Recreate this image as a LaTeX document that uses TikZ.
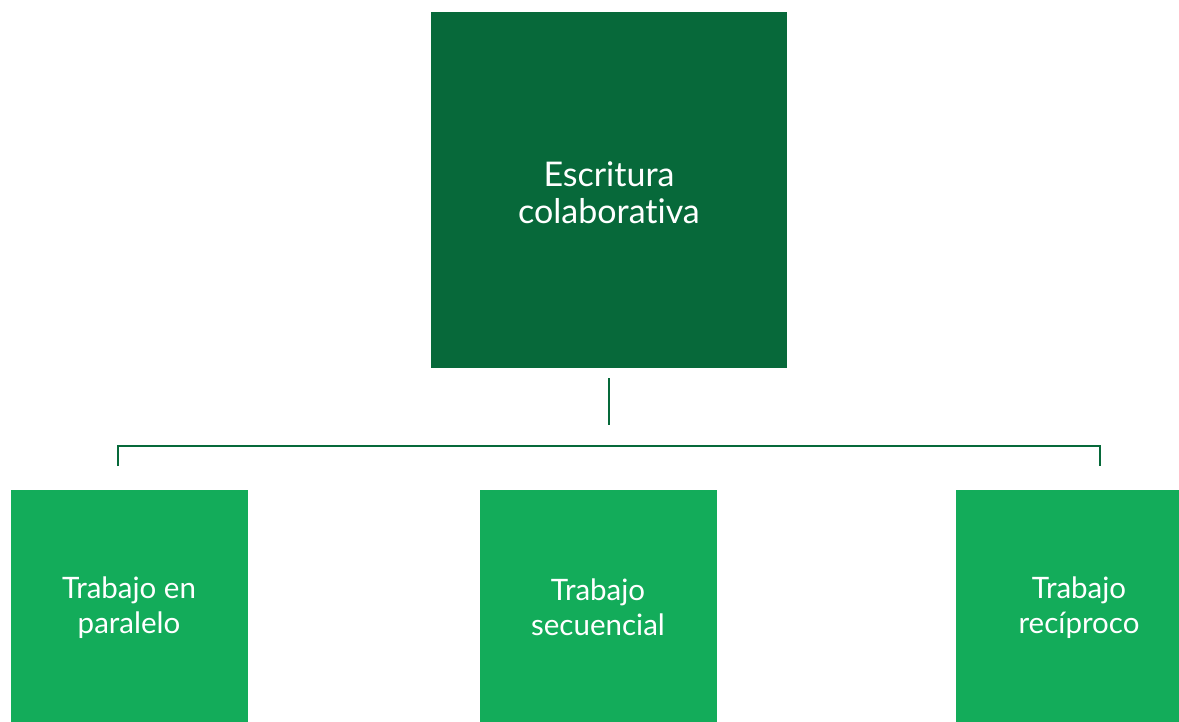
\documentclass[tikz,border=0pt]{standalone}
\usepackage{fontspec}
\setmainfont{Lato}[Ligatures={NoCommon,NoRare}]
\definecolor{darkg}{HTML}{07693A}
\definecolor{lightg}{HTML}{13AC5A}
\begin{document}
\begin{tikzpicture}[x=1pt,y=-1pt,
  topbox/.style={fill=darkg,draw=none,minimum width=356pt,minimum height=356pt,inner sep=0pt},
  subbox/.style={fill=lightg,draw=none,minimum width=237pt,minimum height=237pt,inner sep=0pt},
  toplabel/.style={text=white,align=center,inner sep=0pt,font=\fontsize{34}{37}\selectfont},
  sublabel/.style={text=white,align=center,inner sep=0pt,font=\fontsize{29.5}{35}\selectfont},
  conn/.style={draw=darkg,line width=2.2pt}]
\useasboundingbox (0,0) rectangle (1179,721);
\clip (0,0) rectangle (1179,721);
\node[topbox] (top) at (609,190) {};
\node[toplabel] (toptxt) at (609,193) {Escritura\\colaborativa};
\node[subbox,anchor=north west] (b1) at (11,490) {};
\node[subbox,anchor=north west] (b2) at (480,490) {};
\node[subbox,anchor=north west] (b3) at (956,490) {};
\node[sublabel] (t1) at (129,608) {Trabajo en\\paralelo};
\node[sublabel] (t2) at (598,607) {Trabajo\\secuencial};
\node[sublabel] (t3) at (1079,608) {Trabajo\\recíproco};
\coordinate (vs) at (609,378);
\coordinate (ve) at (609,425);
\coordinate (hl) at (118,446);
\coordinate (hr) at (1100,446);
\coordinate (tl) at (118,466);
\coordinate (tr) at (1100,466);
\draw[conn] (vs) -- (ve);
\draw[conn] (tl) -- (hl) -- (hr) -- (tr);
\end{tikzpicture}
\end{document}
